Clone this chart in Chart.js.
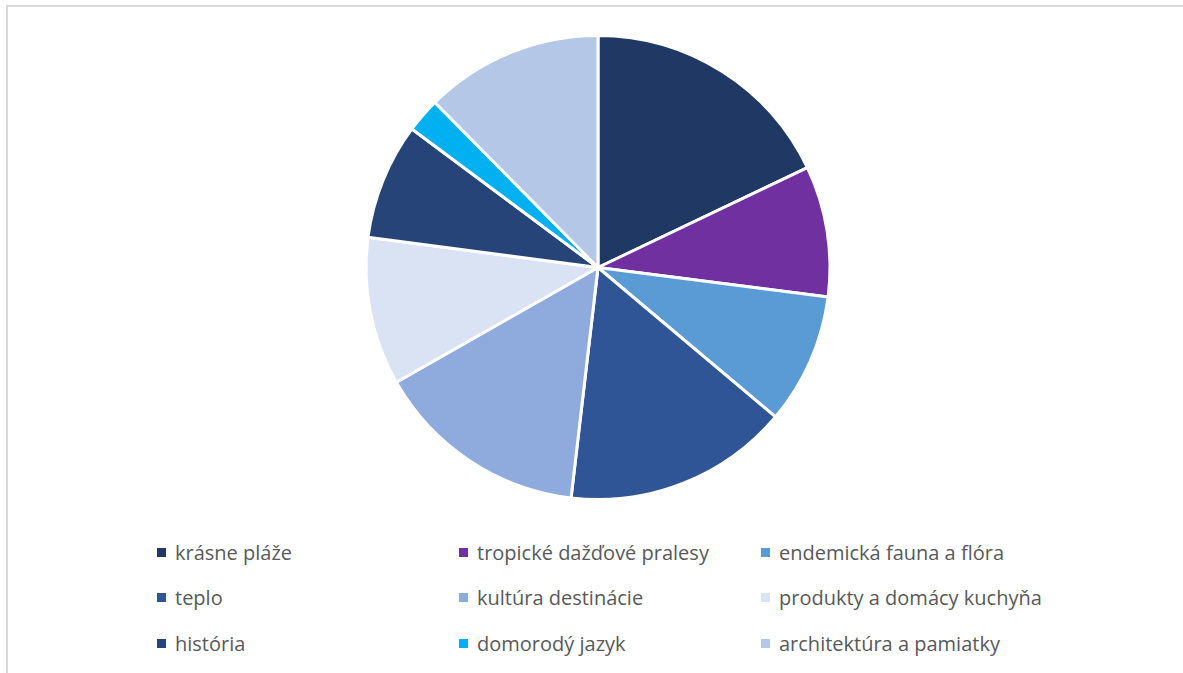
<!DOCTYPE html>
<html>
<head>
<meta charset="utf-8">
<script src="https://cdn.jsdelivr.net/npm/chart.js@4.4.0/dist/chart.umd.min.js"></script>
<style>
  html, body { margin: 0; padding: 0; background: #fff; overflow: hidden; }
  body { width: 1183px; height: 673px; position: relative; font-family: "Open Sans", sans-serif; }
  #frame { position: absolute; left: 6px; top: 5px; width: 1200px; height: 700px; border: 2px solid #d9d9d9; box-sizing: border-box; }
  #wrap { position: absolute; left: 131px; top: 34px; width: 934px; height: 467px; }
  #legend { position: absolute; left: 157px; top: 536px; }
  .item { position: absolute; display: flex; align-items: center; white-space: nowrap; color: #595959; font-size: 20px; height: 32px; }
  .sw { width: 9px; height: 9px; margin-right: 9px; }
</style>
</head>
<body>
<div id="frame"></div>
<div id="wrap"><canvas id="c"></canvas></div>
<div id="legend"></div>
<script>
const categories = [
  "krásne pláže",
  "tropické dažďové pralesy",
  "endemická fauna a flóra",
  "teplo",
  "kultúra destinácie",
  "produkty a domácy kuchyňa",
  "história",
  "domorodý jazyk",
  "architektúra a pamiatky"
];
const values = [17.9, 9.1, 9.1, 15.7, 14.9, 10.3, 8.1, 2.4, 12.4];
const colors = ["#203864", "#7030A0", "#5B9BD5", "#2F5597", "#8FAADC", "#DAE3F3", "#264478", "#00B0F0", "#B4C7E7"];

new Chart(document.getElementById('c'), {
  type: 'pie',
  data: {
    labels: categories,
    datasets: [{
      data: values,
      backgroundColor: colors,
      borderColor: '#ffffff',
      borderWidth: 3,
      hoverOffset: 0
    }]
  },
  options: {
    responsive: true,
    maintainAspectRatio: false,
    animation: false,
    layout: { padding: 0 },
    plugins: { legend: { display: false }, tooltip: { enabled: false } }
  }
});

const legend = document.getElementById('legend');
categories.forEach((name, i) => {
  const col = i % 3, row = Math.floor(i / 3);
  const d = document.createElement('div');
  d.className = 'item';
  d.style.left = (col * 302) + 'px';
  d.style.top = (row * 45.5) + 'px';
  const s = document.createElement('span');
  s.className = 'sw';
  s.style.background = colors[i];
  const t = document.createElement('span');
  t.textContent = name;
  d.appendChild(s); d.appendChild(t);
  legend.appendChild(d);
});
</script>
</body>
</html>
